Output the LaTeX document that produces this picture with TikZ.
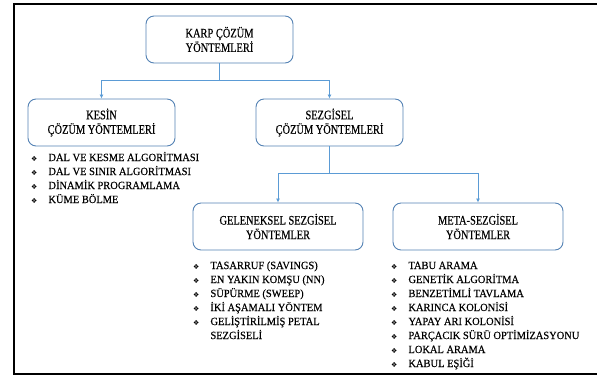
\documentclass[tikz,border=0pt]{standalone}
\usepackage{fontspec}
\setmainfont{Liberation Serif}
\newfontfamily\baslikfont[FakeStretch=0.8,FakeBold=0.3]{Liberation Serif}
\newfontfamily\listefont[FakeStretch=0.95,FakeBold=0.3]{Liberation Serif}
\newfontfamily\symfont{DejaVu Sans}
\usetikzlibrary{arrows.meta}

\definecolor{boxblue}{RGB}{84,130,180}
\definecolor{lineblue}{RGB}{91,155,213}

\newcommand{\bul}{{\symfont\fontsize{7}{8}\selectfont\char"2756}}

\tikzset{
  kutu/.style={draw=boxblue,line width=0.9pt,rounded corners=8pt,fill=white,
    minimum height=47pt,align=center,font=\baslikfont\fontsize{13}{14.5}\selectfont},
  baglanti/.style={draw=lineblue,line width=0.8pt},
  ok/.style={baglanti,-{Latex[length=4pt,width=4pt]}},
  liste/.style={anchor=north west,inner sep=0pt,font=\listefont\fontsize{11}{14}\selectfont},
}

\begin{document}
\begin{tikzpicture}[x=1pt,y=-1pt]
  \useasboundingbox (0,0) rectangle (597,376);

  % outer frame
  \draw[line width=2pt] (597,4) -- (14,4) -- (14,374) -- (597,374);

  % boxes
  \node[kutu,minimum width=147pt] (karp) at (219.5,39.5) {KARP ÇÖZÜM\\YÖNTEMLERİ};
  \node[kutu,minimum width=147pt] (kesin) at (101.5,122.5) {KESİN\\ÇÖZÜM YÖNTEMLERİ};
  \node[kutu,minimum width=147pt] (sezgi) at (329.5,122.5) {SEZGİSEL\\ÇÖZÜM YÖNTEMLERİ};
  \node[kutu,minimum width=170pt] (gelen) at (278,226.5) {GELENEKSEL SEZGİSEL\\YÖNTEMLER};
  \node[kutu,minimum width=170pt] (meta) at (478,226.5) {META-SEZGİSEL\\YÖNTEMLER};

  % connectors
  \coordinate (j1) at (219.5,80);
  \coordinate (j2) at (329.5,173);
  \draw[baglanti] (karp) -- (j1);
  \draw[ok] (j1) -| (kesin);
  \draw[ok] (j1) -| (sezgi);
  \draw[baglanti] (sezgi) -- (j2);
  \draw[ok] (j2) -| (gelen);
  \draw[ok] (j2) -| (meta);

  % lists
  \node[liste] (l-kesin) at (31,151) {%
    \begin{tabular}{@{}l@{\hspace{11pt}}l@{}}
      \bul & DAL VE KESME ALGORİTMASI\\
      \bul & DAL VE SINIR ALGORİTMASI\\
      \bul & DİNAMİK PROGRAMLAMA\\
      \bul & KÜME BÖLME
    \end{tabular}};
  \node[liste] (l-gelen) at (193,259) {%
    \begin{tabular}{@{}l@{\hspace{11pt}}l@{}}
      \bul & TASARRUF (SAVINGS)\\
      \bul & EN YAKIN KOMŞU (NN)\\
      \bul & SÜPÜRME (SWEEP)\\
      \bul & İKİ AŞAMALI YÖNTEM\\
      \bul & GELİŞTİRİLMİŞ PETAL\\
           & SEZGİSELİ
    \end{tabular}};
  \node[liste] (l-meta) at (391,259) {%
    \begin{tabular}{@{}l@{\hspace{11pt}}l@{}}
      \bul & TABU ARAMA\\
      \bul & GENETİK ALGORİTMA\\
      \bul & BENZETİMLİ TAVLAMA\\
      \bul & KARINCA KOLONİSİ\\
      \bul & YAPAY ARI KOLONİSİ\\
      \bul & PARÇACIK SÜRÜ OPTİMİZASYONU\\
      \bul & LOKAL ARAMA\\
      \bul & KABUL EŞİĞİ
    \end{tabular}};
\end{tikzpicture}
\end{document}
